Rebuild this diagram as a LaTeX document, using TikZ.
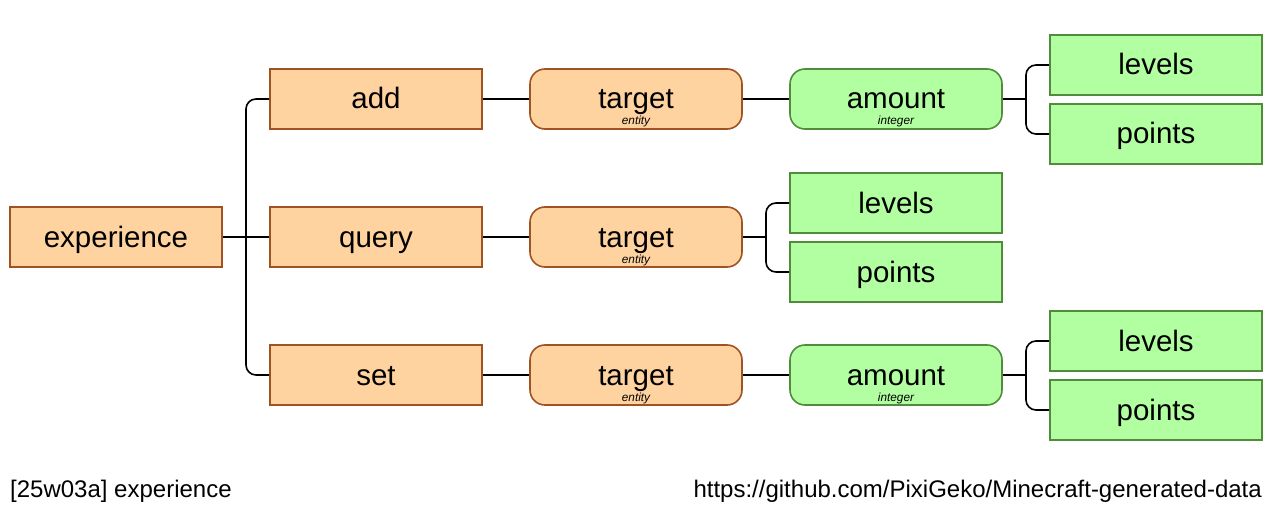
\documentclass[tikz,border=0pt]{standalone}
\usepackage{fontspec}
\setmainfont{Liberation Sans}
\definecolor{ofill}{RGB}{255,211,160}
\definecolor{oline}{RGB}{160,82,35}
\definecolor{gfill}{RGB}{178,255,162}
\definecolor{gline}{RGB}{80,140,60}
\tikzset{
  base/.style={minimum width=212pt, minimum height=60pt, inner sep=0pt, text height=21pt, text depth=1pt, line width=1.6pt, font=\fontsize{29.5}{34}\selectfont, anchor=center},
  obox/.style={base, draw=oline, fill=ofill},
  orbox/.style={base, draw=oline, fill=ofill, rounded corners=15pt},
  grbox/.style={base, draw=gline, fill=gfill, rounded corners=15pt},
  gbox/.style={base, draw=gline, fill=gfill},
  small/.style={font=\fontsize{11.8}{14}\selectfont\itshape, inner sep=0pt, anchor=base},
  conn/.style={line width=1.6pt, rounded corners=10pt},
  foot/.style={font=\fontsize{24}{28}\selectfont, inner sep=0pt}
}
\begin{document}
\begin{tikzpicture}[x=1pt,y=-1pt]
\useasboundingbox (0,0) rectangle (1272,508);
% nodes
\node[obox] (exp) at (116,237) {experience};
\node[obox] (add) at (376,99) {add};
\node[obox] (query) at (376,237) {query};
\node[obox] (set) at (376,375) {set};
\node[orbox] (t1) at (636,99) {target};
\node[small] (t1s) at (636,125) {entity};
\node[orbox] (t2) at (636,237) {target};
\node[small] (t2s) at (636,263) {entity};
\node[orbox] (t3) at (636,375) {target};
\node[small] (t3s) at (636,401) {entity};
\node[grbox] (a1) at (896,99) {amount};
\node[small] (a1s) at (896,125) {integer};
\node[grbox] (a3) at (896,375) {amount};
\node[small] (a3s) at (896,401) {integer};
\node[gbox] (l1) at (1156,65) {levels};
\node[gbox] (p1) at (1156,134) {points};
\node[gbox] (l2) at (896,203) {levels};
\node[gbox] (p2) at (896,272) {points};
\node[gbox] (l3) at (1156,341) {levels};
\node[gbox] (p3) at (1156,410) {points};
% connectors
\coordinate (b0) at (246,237);
\draw[conn] (exp.east) -- (query.west);
\draw[conn] (b0) |- (add.west);
\draw[conn] (b0) |- (set.west);
\draw[conn] (add.east) -- (t1.west);
\draw[conn] (query.east) -- (t2.west);
\draw[conn] (set.east) -- (t3.west);
\draw[conn] (t1.east) -- (a1.west);
\draw[conn] (t3.east) -- (a3.west);
\coordinate (b1) at (1026,99);
\draw[conn] (a1.east) -- (b1);
\draw[conn] (b1) |- (l1.west);
\draw[conn] (b1) |- (p1.west);
\coordinate (b2) at (766,237);
\draw[conn] (t2.east) -- (b2);
\draw[conn] (b2) |- (l2.west);
\draw[conn] (b2) |- (p2.west);
\coordinate (b3) at (1026,375);
\draw[conn] (a3.east) -- (b3);
\draw[conn] (b3) |- (l3.west);
\draw[conn] (b3) |- (p3.west);
% footer
\node[foot, anchor=base west] (ftl) at (10,497) {[25w03a] experience};
\node[foot, anchor=base east] (ftr) at (1262,497) {https://github.com/PixiGeko/Minecraft-generated-data};
\end{tikzpicture}
\end{document}
